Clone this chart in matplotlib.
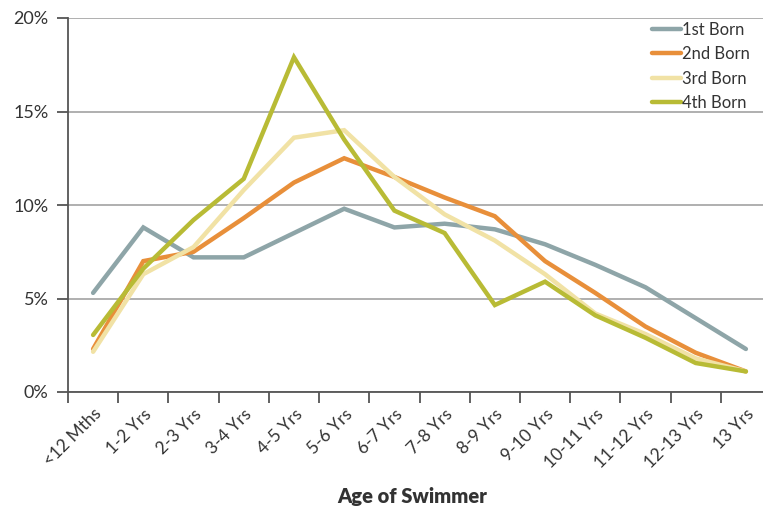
import matplotlib
matplotlib.use("Agg")
import matplotlib.pyplot as plt

ages = ["<12 Mths", "1-2 Yrs", "2-3 Yrs", "3-4 Yrs", "4-5 Yrs", "5-6 Yrs", "6-7 Yrs",
        "7-8 Yrs", "8-9 Yrs", "9-10 Yrs", "10-11 Yrs", "11-12 Yrs", "12-13 Yrs", "13 Yrs"]

first_born = [5.3, 8.8, 7.2, 7.2, 8.5, 9.8, 8.8, 9.0, 8.7, 7.9, 6.8, 5.6, 3.95, 2.3]
second_born = [2.3, 7.0, 7.5, 9.3, 11.2, 12.5, 11.5, 10.4, 9.4, 7.0, 5.3, 3.5, 2.1, 1.1]
third_born = [2.15, 6.3, 7.75, 10.8, 13.6, 14.0, 11.5, 9.5, 8.1, 6.3, 4.2, 3.1, 1.8, 1.1]
fourth_born = [3.05, 6.6, 9.2, 11.4, 17.9, 13.5, 9.7, 8.5, 4.65, 5.9, 4.1, 2.9, 1.55, 1.1]

series = [("1st Born", first_born, "#8ea5a8"),
          ("2nd Born", second_born, "#e88f3a"),
          ("3rd Born", third_born, "#f1e2a5"),
          ("4th Born", fourth_born, "#b8bb35")]

plt.rcParams['font.family'] = ['Lato', 'DejaVu Sans']

fig = plt.figure(figsize=(7.63, 5.13), dpi=100)
ax = fig.add_axes([68 / 763, 1 - 392 / 513, (771 - 68) / 763, (392 - 18) / 513])

x = list(range(len(ages)))
for name, vals, col in series:
    ax.plot(x, vals, color=col, lw=3.2, label=name, solid_capstyle='round',
            solid_joinstyle='miter')

ax.set_xlim(-0.5, len(ages) - 0.5)
ax.set_ylim(0, 20)
ax.set_yticks([0, 5, 10, 15, 20])
ax.set_yticklabels(["0%", "5%", "10%", "15%", "20%"], fontsize=13, color="#333333")
ax.yaxis.grid(True, color="#9a9a9a", lw=1.1)
ax.set_axisbelow(True)

ax.set_xticks([i - 0.5 for i in range(len(ages) + 1)])
ax.set_xticklabels([])
ax.set_xticks(x, minor=True)
ax.set_xticklabels(ages, minor=True, rotation=45, ha="right", rotation_mode="anchor",
                   fontsize=12.5, color="#333333")
ax.tick_params(axis="x", which="minor", length=0, pad=10)
ax.tick_params(axis="x", which="major", length=8, width=1.3, color="#555555", direction="out")
ax.tick_params(axis="y", length=8, width=1.3, color="#555555", pad=6)

for s in ["top", "right"]:
    ax.spines[s].set_visible(False)
for s in ["left", "bottom"]:
    ax.spines[s].set_color("#555555")
    ax.spines[s].set_linewidth(1.3)

fig.text(412 / 763, 1 - 497 / 513, "Age of Swimmer", ha="center", va="center",
         fontsize=14.5, fontweight="heavy", color="#333333")

leg = ax.legend(loc="upper left", bbox_to_anchor=(652 / 763, 1 - 22 / 513),
                bbox_transform=fig.transFigure, frameon=False, fontsize=12,
                handlelength=1.75, handletextpad=0.08, labelspacing=0.5,
                borderaxespad=0, borderpad=0)
for t in leg.get_texts():
    t.set_color("#333333")

fig.savefig("out.png", dpi=100, facecolor="white")
